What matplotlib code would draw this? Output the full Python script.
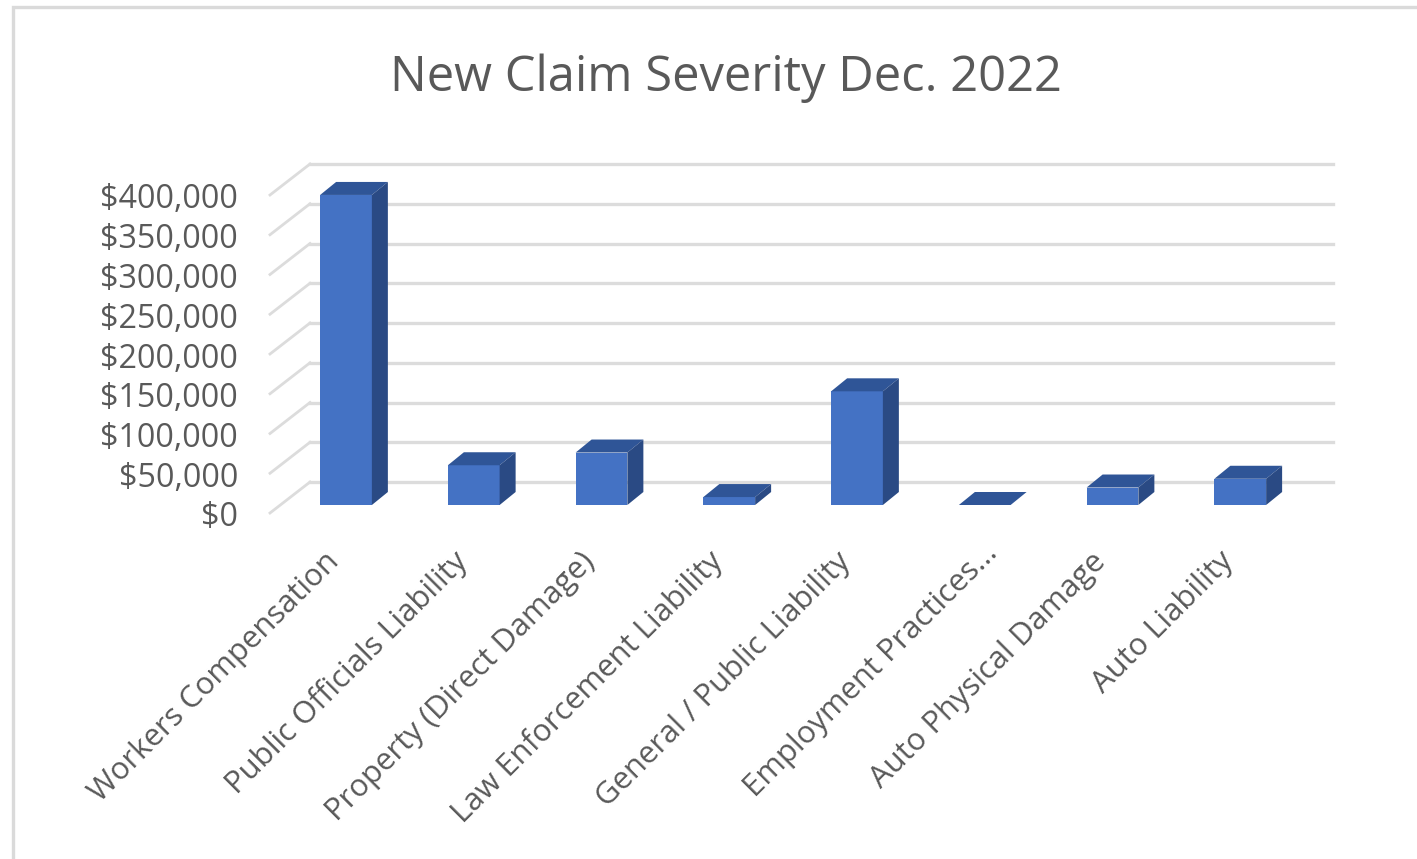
import matplotlib
matplotlib.use('Agg')
from matplotlib import pyplot as plt
from matplotlib.patches import Polygon, Rectangle

plt.rcParams['font.family'] = ['Open Sans', 'DejaVu Sans']

categories = ['Workers Compensation', 'Public Officials Liability', 'Property (Direct Damage)',
              'Law Enforcement Liability', 'General / Public Liability', 'Employment Practices...',
              'Auto Physical Damage', 'Auto Liability']
values = [390000, 50000, 66000, 10000, 143000, 0, 22000, 33000]
ticks = [0, 50000, 100000, 150000, 200000, 250000, 300000, 350000, 400000]
tick_labels = ['$0', '$50,000', '$100,000', '$150,000', '$200,000', '$250,000', '$300,000', '$350,000', '$400,000']
title = 'New Claim Severity Dec. 2022'

W, H = 1417, 859
px_x = 127.75          # pixels per category
px_y = 318 / 400000    # pixels per dollar

fig = plt.figure(figsize=(W / 100, H / 100), dpi=100)
ax = fig.add_axes([0, 0, 1, 1])
ax.set_xlim(-346 / px_x, (W - 346) / px_x)
ax.set_ylim(-(H - 505) / px_y, 505 / px_y)
ax.axis('off')


def dx(p):
    return p / px_x


def dy(p):
    return p / px_y


# fake 3d offsets
front = (dx(-76), dy(-8))
back = (dx(-36), dy(23))
right = dx(987)
depth = (dx(16), dy(13))
grid_c = '#dcdcdc'
txt_c = '#595959'

# outer frame
fig.add_artist(Rectangle((13 / W, -0.1), 1.2, 1 - 7 / H + 0.1, transform=fig.transFigure,
                         fill=False, ec='#dadada', lw=2.4))

for t, lab in zip(ticks, tick_labels):
    ax.plot([front[0], back[0]], [t + front[1], t + back[1]], color=grid_c, lw=2, zorder=1)
    ax.plot([back[0], right], [t + back[1], t + back[1]], color=grid_c, lw=2.4, zorder=1)
    ax.text(dx(-108), t + dy(-13), lab, ha='right', va='center', fontsize=23.2, color=txt_c)

bar_w = 0.405
bars = ax.bar(range(len(values)), values, width=bar_w, color='#4472c4', zorder=3)
for i, v in enumerate(values):
    l, r = i - bar_w / 2, i + bar_w / 2
    ax.add_patch(Polygon([(l, v), (r, v), (r + depth[0], v + depth[1]), (l + depth[0], v + depth[1])],
                         closed=True, fc='#2f5597', ec='none', zorder=3))
    if v > 0:
        ax.add_patch(Polygon([(r, 0), (r, v), (r + depth[0], v + depth[1]), (r + depth[0], depth[1])],
                             closed=True, fc='#2a4a84', ec='none', zorder=3))
    # the truncated label sits a bit further right in the original
    if categories[i].endswith('...'):
        lx, ly = dx(8), dy(-44)
    else:
        lx, ly = dx(-11), dy(-52)
    ax.text(i + lx, ly, categories[i], rotation=45, rotation_mode='anchor',
            ha='right', va='center', fontsize=22.3, color=txt_c)

ax.text(dx(380), dy(427), title, ha='center', va='center', fontsize=35.2, color=txt_c)

fig.savefig('out.png', dpi=100)
